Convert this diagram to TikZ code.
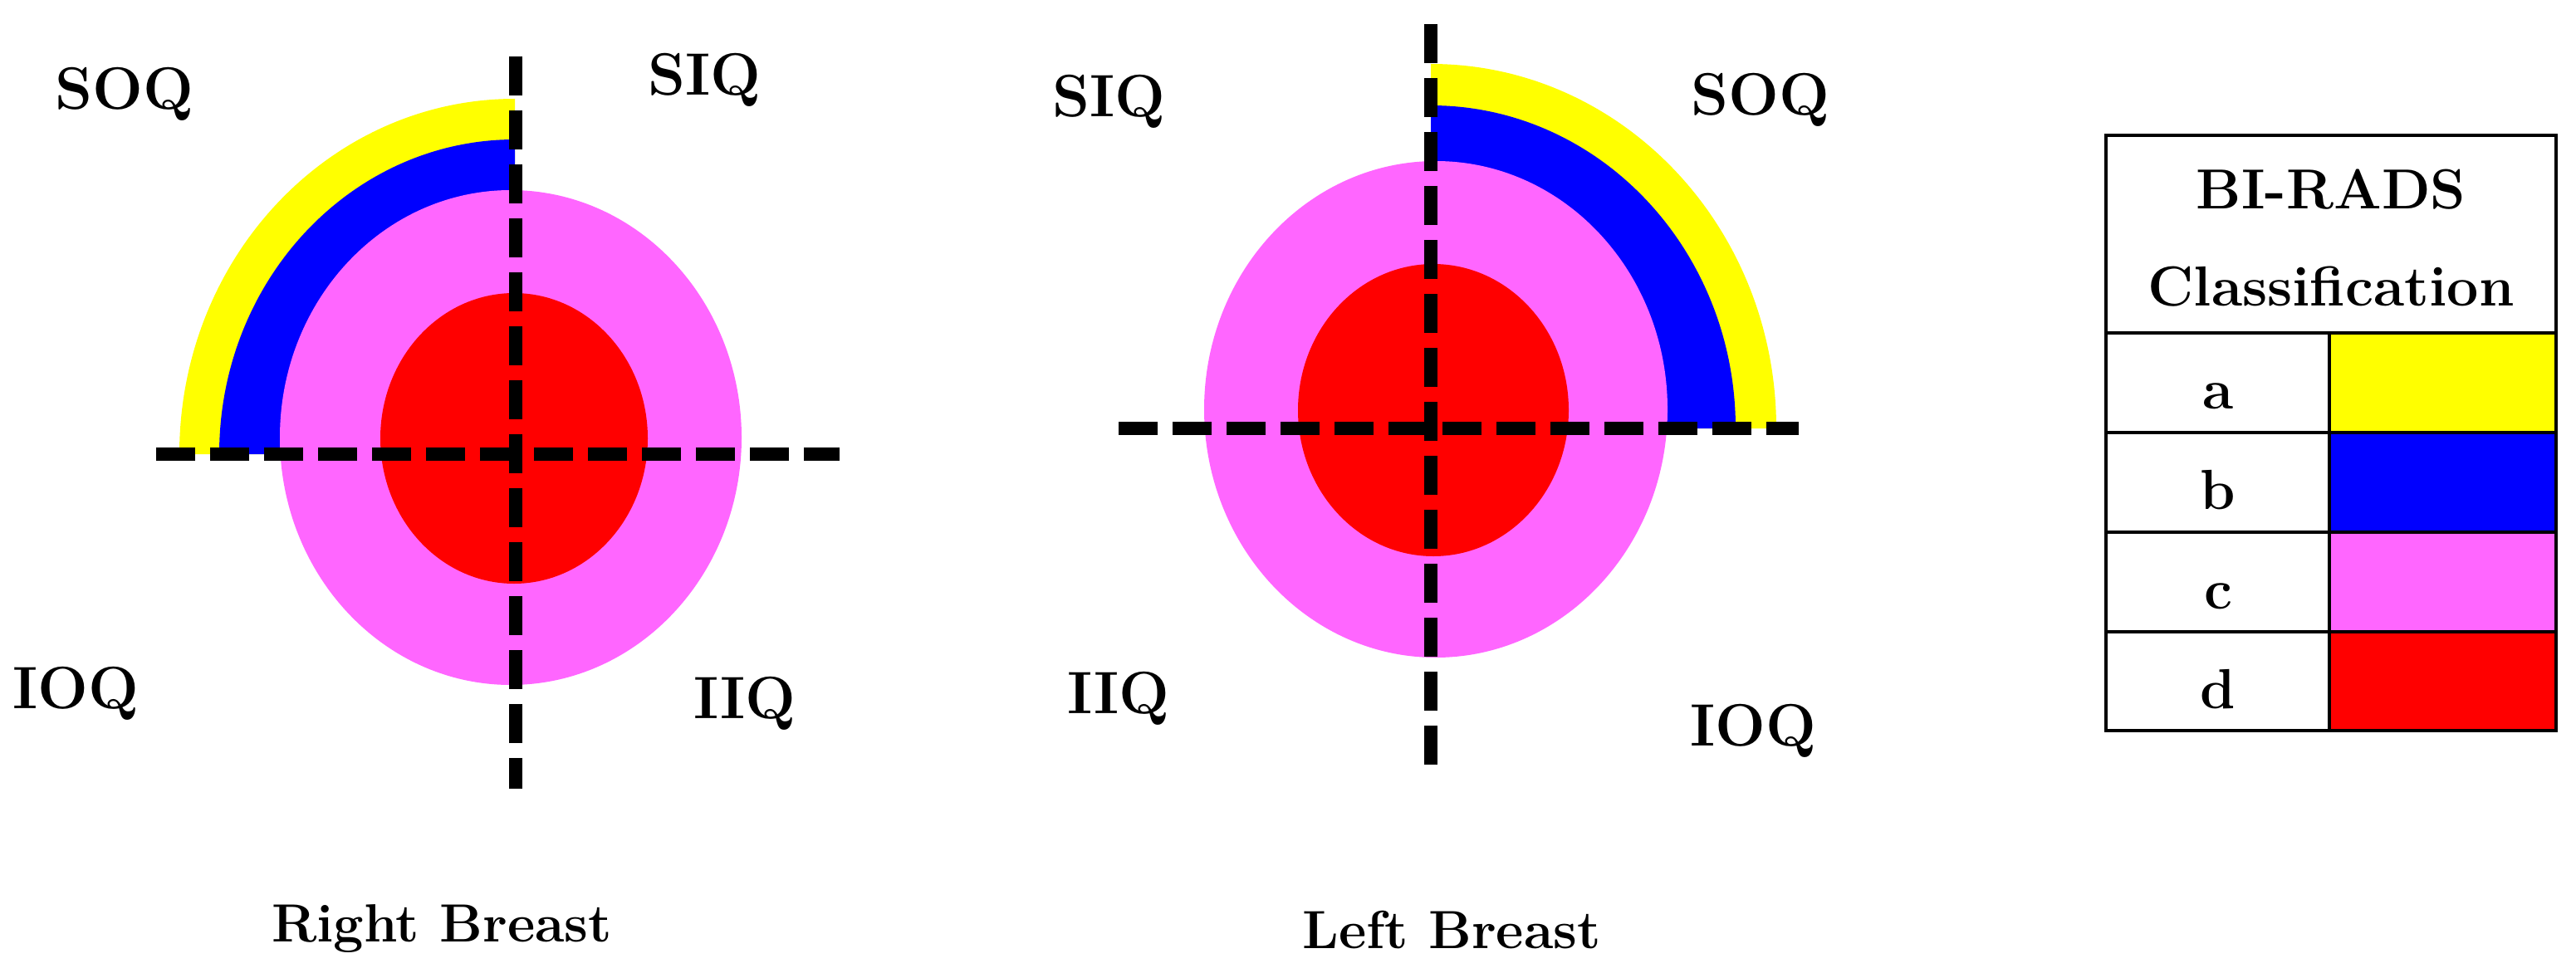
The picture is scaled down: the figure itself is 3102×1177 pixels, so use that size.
\documentclass[tikz,border=0pt]{standalone}
\usepackage{tikz}
\definecolor{cA}{RGB}{255,255,0}
\definecolor{cB}{RGB}{0,0,255}
\definecolor{cC}{RGB}{255,102,255}
\definecolor{cD}{RGB}{255,0,0}
\tikzset{
  axisline/.style={line width=3.8pt, dash pattern=on 11.75pt off 4.5pt},
  quadlab/.style={anchor=base, inner sep=0pt, font=\fontsize{18}{20}\selectfont\bfseries},
  titlelab/.style={anchor=base, inner sep=0pt, font=\fontsize{16.2}{18}\selectfont\bfseries},
  tablab/.style={anchor=base, inner sep=0pt, font=\fontsize{17}{19}\selectfont\bfseries},
  tabline/.style={line width=0.8pt}
}
\begin{document}
\begin{tikzpicture}[x=0.25pt,y=0.25pt]
\useasboundingbox (0,0) rectangle (3102,-1177);
% ---------- Right breast ----------
\fill[cA] (620,-547) -- (216,-547) arc[start angle=180, end angle=90, x radius=404, y radius=428] -- cycle;
\fill[cB] (620,-547) -- (264,-547) arc[start angle=180, end angle=90, x radius=356, y radius=379] -- cycle;
\fill[cC] (615,-527) ellipse[x radius=278, y radius=298];
\fill[cD] (619,-528) ellipse[x radius=161, y radius=175];
\coordinate (rvt) at (621,-68);
\coordinate (rvb) at (621,-950);
\coordinate (rhl) at (188,-547);
\coordinate (rhr) at (1011,-547);
\draw[axisline] (rhl) -- (rhr);
\draw[axisline] (rvt) -- (rvb);
\node[quadlab] (rsoq) at (150,-132) {SOQ};
\node[quadlab] (rsiq) at (848,-115) {SIQ};
\node[quadlab] (rioq) at (91,-853) {IOQ};
\node[quadlab] (riiq) at (897,-865) {IIQ};
\node[titlelab] (rtitle) at (532,-1134) {Right Breast};
% ---------- Left breast ----------
\fill[cA] (1723,-516) -- (2139,-516) arc[start angle=0, end angle=90, x radius=416, y radius=439] -- cycle;
\fill[cB] (1723,-516) -- (2090,-516) arc[start angle=0, end angle=90, x radius=367, y radius=389] -- cycle;
\fill[cC] (1729,-493) ellipse[x radius=279, y radius=299];
\fill[cD] (1726,-494) ellipse[x radius=163, y radius=176];
\coordinate (lvt) at (1723,-29);
\coordinate (lvb) at (1723,-929);
\coordinate (lhl) at (1347,-516);
\coordinate (lhr) at (2166,-516);
\draw[axisline] (lhl) -- (lhr);
\draw[axisline] (lvt) -- (lvb);
\node[quadlab] (lsiq) at (1335,-141) {SIQ};
\node[quadlab] (lsoq) at (2120,-139) {SOQ};
\node[quadlab] (liiq) at (1347,-859) {IIQ};
\node[quadlab] (lioq) at (2111,-898) {IOQ};
\node[titlelab] (ltitle) at (1748,-1142) {Left Breast};
% ---------- Legend table ----------
\fill[cA] (2805,-401) rectangle (3078,-521);
\fill[cB] (2805,-521) rectangle (3078,-641);
\fill[cC] (2805,-641) rectangle (3078,-761);
\fill[cD] (2805,-761) rectangle (3078,-880);
\draw[tabline] (2536,-163) rectangle (3078,-880);
\draw[tabline] (2536,-401) -- (3078,-401);
\draw[tabline] (2536,-521) -- (3078,-521);
\draw[tabline] (2536,-641) -- (3078,-641);
\draw[tabline] (2536,-761) -- (3078,-761);
\draw[tabline] (2805,-401) -- (2805,-880);
\node[tablab] (th1) at (2807,-252) {BI-RADS};
\node[tablab] (th2) at (2807,-368) {Classification};
\node[tablab] (ta) at (2671,-492) {a};
\node[tablab] (tb) at (2671,-613) {b};
\node[tablab] (tc) at (2671,-733) {c};
\node[tablab] (td) at (2671,-853) {d};
\end{tikzpicture}
\end{document}
